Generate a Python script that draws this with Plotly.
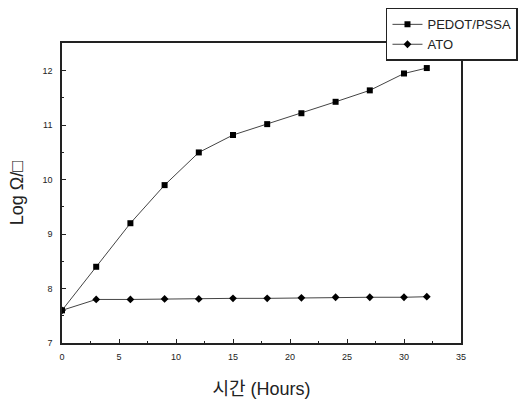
import plotly.graph_objects as go

hours_pedot = [0, 3, 6, 9, 12, 15, 18, 21, 24, 27, 30, 32]
pedot = [7.6, 8.4, 9.2, 9.9, 10.5, 10.82, 11.02, 11.22, 11.43, 11.64, 11.95, 12.05]
hours_ato = [0, 3, 6, 9, 12, 15, 18, 21, 24, 27, 30, 32]
ato = [7.6, 7.8, 7.8, 7.81, 7.81, 7.82, 7.82, 7.83, 7.84, 7.84, 7.84, 7.85]

font = "Liberation Sans, Arial, Noto Sans CJK KR, sans-serif"

fig = go.Figure()
fig.add_trace(go.Scatter(x=hours_pedot, y=pedot, name="PEDOT/PSSA", mode="lines+markers",
                         line=dict(color="#444", width=1),
                         marker=dict(symbol="square", size=6, color="#000")))
fig.add_trace(go.Scatter(x=hours_ato, y=ato, name="ATO", mode="lines+markers",
                         line=dict(color="#444", width=1),
                         marker=dict(symbol="diamond", size=6, color="#000")))

axis_common = dict(showline=True, linecolor="#222", linewidth=1.5, mirror=True,
                   ticks="inside", ticklen=4, tickcolor="#222", showgrid=False, zeroline=False,
                   tickfont=dict(size=9, color="#222", family=font))

fig.update_layout(
    width=527, height=407,
    margin=dict(l=62, r=66, t=43, b=64, autoexpand=False),
    paper_bgcolor="white", plot_bgcolor="white",
    font=dict(family=font, color="#222"),
    xaxis=dict(range=[0, 35], dtick=5, tick0=0, ticklabelstandoff=4,
               minor=dict(ticks="inside", ticklen=2, dtick=2.5, tickcolor="#222"),
               title=dict(text="시간 (Hours)", font=dict(size=18, color="#222"), standoff=22),
               **axis_common),
    yaxis=dict(range=[7, 12.51], dtick=1, tick0=7, ticklabelstandoff=6,
               minor=dict(ticks="inside", ticklen=2, dtick=0.5, tickcolor="#222"),
               title=dict(text="Log Ω/□", font=dict(size=18, color="#222"), standoff=14),
               **axis_common),
    legend=dict(x=0.812, y=1.117, xanchor="left", yanchor="top",
                bordercolor="#222", borderwidth=1.5, bgcolor="white",
                font=dict(size=13, color="#222"), tracegroupgap=0),
    showlegend=True,
)

fig.write_html("out.html")
